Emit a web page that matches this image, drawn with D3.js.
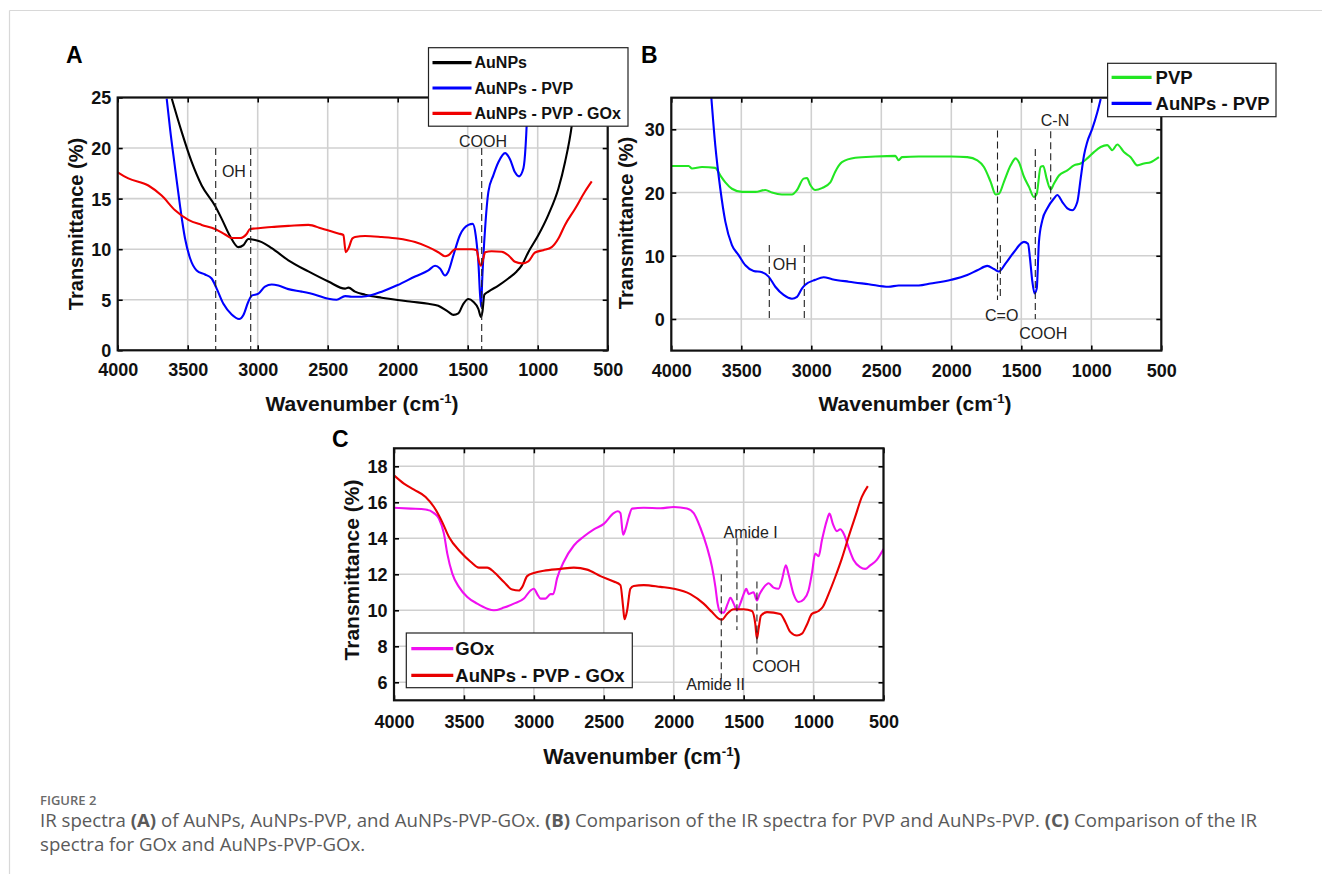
<!DOCTYPE html>
<html><head><meta charset="utf-8">
<script src="https://cdn.jsdelivr.net/npm/d3@7"></script>
<style>
html,body{margin:0;padding:0;background:#fff;}
svg text{font-family:"Liberation Sans",Arial,sans-serif;}
</style></head>
<body>
<svg id="chart" width="1322" height="874"></svg>
<script>
// ---------------- DATA ----------------
const xTickValues = [4000, 3500, 3000, 2500, 2000, 1500, 1000, 500];
const yTicksA = [0, 5, 10, 15, 20, 25];
const yTicksB = [0, 10, 20, 30];
const yTicksC = [6, 8, 10, 12, 14, 16, 18];
const yDomainA = [0, 25];
const yDomainB = [-5, 35];
const yDomainC = [5, 19];

// Panel A: [wavenumber, transmittance %]
const auNPsA = [[3614,24.9],[3543,21.6],[3471,18.6],[3400,16.3],[3305,14.3],[3257,13.0],[3198,11.3],[3138,10.2],[3102,10.4],[3067,11.0],[3019,10.9],[2971,10.7],[2900,10.1],[2781,8.9],[2638,7.8],[2495,6.8],[2376,6.1],[2352,6.2],[2305,5.8],[2233,5.5],[2114,5.2],[2000,4.97],[1900,4.8],[1781,4.6],[1710,4.4],[1638,3.8],[1602,3.5],[1567,3.65],[1531,4.6],[1495,5.07],[1460,4.8],[1424,4.1],[1405,3.3],[1395,3.8],[1381,5.5],[1352,5.8],[1281,6.4],[1210,7.1],[1150,7.8],[1114,8.4],[1067,9.7],[995,11.4],[924,13.4],[852,16.0],[805,18.6],[757,22.2],[733,25]];
const auNPsPvpA = [[3650,24.9],[3626,21.9],[3590,18.0],[3555,14.3],[3519,11.05],[3483,9.1],[3436,7.9],[3376,7.5],[3329,7.1],[3293,6.1],[3245,4.6],[3186,3.55],[3133,3.1],[3102,3.5],[3067,4.8],[3043,5.4],[2995,5.6],[2948,6.3],[2900,6.5],[2852,6.4],[2781,6.05],[2686,5.8],[2590,5.5],[2495,5.1],[2436,5.0],[2376,5.36],[2329,5.3],[2257,5.3],[2186,5.46],[2114,5.8],[2000,6.45],[1876,7.3],[1781,7.9],[1733,8.36],[1698,8.1],[1662,7.4],[1638,7.8],[1602,9.4],[1555,11.4],[1495,12.4],[1464,12.5],[1443,11.4],[1424,8.75],[1405,4.3],[1395,7.4],[1376,12.0],[1352,15.7],[1317,17.3],[1281,18.6],[1233,19.5],[1198,18.9],[1162,17.6],[1133,17.2],[1102,18.0],[1086,20.3],[1079,22.2],[1072,25]];
const auNPsPvpGoxA = [[4000,17.6],[3924,17.0],[3781,16.3],[3686,15.3],[3590,13.85],[3495,12.9],[3400,12.4],[3305,12.0],[3233,11.45],[3186,11.1],[3126,11.1],[3079,11.5],[3055,12.0],[3019,12.04],[2900,12.2],[2781,12.3],[2638,12.4],[2543,12.04],[2424,11.55],[2388,11.4],[2371,9.7],[2352,10.07],[2324,11.05],[2305,11.2],[2233,11.3],[2114,11.2],[2000,11.05],[1876,10.7],[1781,10.2],[1710,9.7],[1662,9.3],[1638,9.4],[1590,10.0],[1543,10.0],[1471,10.0],[1436,9.9],[1419,8.75],[1405,8.36],[1388,9.1],[1376,9.7],[1329,9.8],[1257,9.74],[1210,9.4],[1162,8.75],[1114,8.6],[1067,8.8],[1019,9.67],[960,9.9],[900,10.2],[852,11.05],[805,12.4],[733,14.0],[662,15.7],[614,16.7]];

// Panel B
const pvpB = [[4000,24.2],[3876,24.2],[3852,23.8],[3781,24.05],[3686,23.9],[3650,22.7],[3614,21.6],[3567,20.6],[3495,20.1],[3400,20.1],[3329,20.4],[3281,20.0],[3210,19.7],[3138,19.7],[3102,20.4],[3055,22.2],[3031,22.3],[3007,21.2],[2971,20.4],[2924,20.7],[2864,21.6],[2829,23.3],[2781,24.8],[2686,25.5],[2543,25.7],[2400,25.8],[2376,25.1],[2352,25.6],[2233,25.7],[2148,25.7],[2000,25.7],[1886,25.6],[1814,25.1],[1767,24.05],[1719,21.7],[1683,19.7],[1660,19.8],[1624,21.7],[1576,24.3],[1540,25.4],[1517,24.8],[1481,22.5],[1445,20.9],[1410,19.3],[1390,19.8],[1362,24.05],[1343,24.2],[1319,22.2],[1290,20.5],[1267,21.4],[1231,22.7],[1171,23.5],[1124,24.3],[1076,24.6],[1029,25.4],[981,26.4],[933,27.2],[886,27.5],[850,26.7],[814,27.6],[767,26.4],[719,25.6],[671,24.3],[624,24.6],[576,24.8],[517,25.6]];
const auNPsPvpB = [[3714,35],[3686,27.5],[3650,20.6],[3614,15.4],[3567,11.7],[3519,10.1],[3471,8.5],[3412,7.6],[3352,7.4],[3305,6.7],[3257,5.1],[3198,3.8],[3138,3.2],[3102,3.5],[3067,4.8],[3043,5.4],[2971,6.2],[2912,6.6],[2852,6.3],[2733,5.9],[2590,5.5],[2448,5.1],[2376,5.3],[2233,5.3],[2148,5.6],[2000,6.2],[1886,6.95],[1814,7.7],[1743,8.4],[1695,7.9],[1660,7.5],[1612,8.8],[1552,10.6],[1481,12.2],[1452,11.9],[1438,9.6],[1421,5.9],[1405,4.05],[1390,4.8],[1374,12.2],[1350,15.6],[1314,17.5],[1267,19.05],[1243,19.6],[1207,18.5],[1171,17.5],[1136,17.2],[1100,18.5],[1076,22.2],[1052,25.9],[1029,28.0],[993,30.1],[957,32.7],[933,34.8]];

// Panel C
const goxC = [[4000,15.7],[3881,15.65],[3774,15.6],[3714,15.4],[3679,15.1],[3643,14.26],[3619,13.15],[3583,12.04],[3536,11.3],[3476,10.74],[3405,10.37],[3333,10.09],[3286,10.0],[3214,10.15],[3143,10.37],[3071,10.65],[3024,11.1],[3000,11.2],[2976,10.9],[2952,10.65],[2917,10.65],[2881,10.9],[2862,10.9],[2833,11.8],[2786,12.7],[2714,13.6],[2643,14.1],[2571,14.5],[2500,14.8],[2429,15.4],[2400,15.5],[2381,15.4],[2362,14.2],[2345,14.5],[2321,15.2],[2298,15.65],[2214,15.7],[2095,15.67],[2000,15.74],[1905,15.65],[1857,15.4],[1810,14.6],[1762,13.5],[1726,12.4],[1702,11.3],[1686,10.37],[1667,9.9],[1643,9.87],[1614,10.37],[1595,10.7],[1571,10.37],[1548,10.0],[1524,10.37],[1500,10.9],[1481,11.2],[1464,10.9],[1429,11.0],[1405,10.55],[1386,10.9],[1357,11.26],[1321,11.5],[1286,11.26],[1250,11.2],[1226,11.7],[1198,12.5],[1179,12.0],[1143,10.9],[1107,10.46],[1071,10.6],[1036,11.1],[1012,12.04],[988,13.15],[964,13.0],[940,13.9],[905,15.0],[886,15.37],[862,14.8],[833,14.4],[810,14.5],[781,14.2],[750,13.5],[714,12.8],[667,12.4],[631,12.3],[595,12.5],[548,12.8],[500,13.4]];
const auNPsPvpGoxC = [[4000,17.5],[3929,17.04],[3857,16.7],[3774,16.3],[3714,15.74],[3655,14.9],[3607,14.07],[3524,13.24],[3452,12.7],[3393,12.37],[3333,12.37],[3286,12.13],[3214,11.57],[3155,11.15],[3107,11.1],[3083,11.3],[3048,11.9],[3000,12.07],[2929,12.2],[2810,12.3],[2714,12.37],[2619,12.26],[2524,11.9],[2429,11.6],[2381,11.4],[2362,10.2],[2352,9.5],[2333,10.0],[2310,11.2],[2286,11.35],[2214,11.4],[2095,11.3],[2000,11.2],[1881,10.9],[1786,10.37],[1726,9.9],[1679,9.54],[1655,9.48],[1619,9.8],[1571,10.06],[1500,10.06],[1440,9.96],[1417,9.26],[1405,8.43],[1393,8.98],[1376,9.7],[1333,9.9],[1238,9.8],[1202,9.35],[1167,8.8],[1119,8.6],[1083,8.7],[1048,9.2],[1012,9.8],[964,9.96],[933,10.2],[893,10.9],[845,11.85],[798,12.87],[750,14.07],[702,15.2],[655,16.3],[612,16.9]];

// Annotations: dashed markers [wavenumber, from, to] and labels [text, wavenumber, value]
const markersA = [[3300,20,0],[3050,20,0],[1400,20,0]];
const labelsA = [["OH",3170,17.1],["COOH",1391,20.1]];
const markersB = [[3300,11.7,0],[3050,11.7,0],[1670,29.8,3],[1650,11.7,3],[1400,26.9,0],[1290,29.7,18.9]];
const labelsB = [["OH",3190,7.75],["C=O",1640,-0.3],["COOH",1343,-3.2],["C-N",1259,30.5]];
const markersC = [[1660,12,6.2],[1548,14,8.9],[1405,11.6,7.5]];
const labelsC = [["Amide I",1450,14.02],["Amide II",1700,5.57],["COOH",1266,6.57]];

const legendA = ["AuNPs", "AuNPs - PVP", "AuNPs - PVP - GOx"];
const legendB = ["PVP", "AuNPs - PVP"];
const legendC = ["GOx", "AuNPs - PVP - GOx"];

// ---------------- DRAWING ----------------
const svg = d3.select("#chart");
svg.append("rect").attr("width",1322).attr("height",874).attr("fill","#fff");
// page frame
svg.append("line").attr("x1",9.5).attr("x2",1322).attr("y1",10.5).attr("y2",10.5).attr("stroke","#d8d8d8").attr("stroke-width",1.2);
svg.append("line").attr("x1",9.5).attr("x2",9.5).attr("y1",10.5).attr("y2",874).attr("stroke","#d8d8d8").attr("stroke-width",1.2);

const COLORS = {black:"#000000", blue:"#0000ff", red:"#f00000", green:"#22e622", magenta:"#f010f0", redC:"#e80000"};

function panel(cfg){
  const g = svg.append("g");
  const x = d3.scaleLinear().domain([4000,500]).range([cfg.x0,cfg.x1]);
  const y = d3.scaleLinear().domain(cfg.yDomain).range([cfg.y1,cfg.y0]);
  const clipId = "clip"+cfg.name;
  svg.append("clipPath").attr("id",clipId).append("rect")
    .attr("x",cfg.x0).attr("y",cfg.y0).attr("width",cfg.x1-cfg.x0).attr("height",cfg.y1-cfg.y0);
  // grid
  g.selectAll(".gx").data(xTickValues).join("line")
    .attr("x1",d=>x(d)).attr("x2",d=>x(d)).attr("y1",cfg.y0).attr("y2",cfg.y1)
    .attr("stroke","#d0d0d0").attr("stroke-width",1.6);
  g.selectAll(".gy").data(cfg.yTicks).join("line")
    .attr("x1",cfg.x0).attr("x2",cfg.x1).attr("y1",d=>y(d)).attr("y2",d=>y(d))
    .attr("stroke","#d0d0d0").attr("stroke-width",1.6);
  // axes (ticks inward on all sides)
  const tl = 5;
  const axB = d3.axisBottom(x).tickValues(xTickValues).tickSize(-tl).tickFormat(d3.format("d"));
  const axT = d3.axisTop(x).tickValues(xTickValues).tickSize(-tl).tickFormat("");
  const axL = d3.axisLeft(y).tickValues(cfg.yTicks).tickSize(-tl).tickFormat(d3.format("d"));
  const axR = d3.axisRight(y).tickValues(cfg.yTicks).tickSize(-tl).tickFormat("");
  function styleAx(sel){
    sel.select(".domain").remove();
    sel.selectAll(".tick line").attr("stroke","#000").attr("stroke-width",1.6);
    sel.selectAll(".tick text").attr("fill","#111").style("font-size",cfg.tickFont+"px").style("font-weight","bold");
  }
  g.append("g").attr("transform",`translate(0,${cfg.y1})`).call(axB).call(styleAx)
    .selectAll(".tick text").attr("y",cfg.xLabOff).attr("dy","0");
  g.append("g").attr("transform",`translate(0,${cfg.y0})`).call(axT).call(styleAx);
  g.append("g").attr("transform",`translate(${cfg.x0},0)`).call(axL).call(styleAx)
    .selectAll(".tick text").attr("x",-6.5).attr("dy","0.36em");
  g.append("g").attr("transform",`translate(${cfg.x1},0)`).call(axR).call(styleAx);
  // series
  const line = d3.line().x(d=>x(d[0])).y(d=>y(d[1])).curve(d3.curveMonotoneX);
  const sg = g.append("g").attr("clip-path",`url(#${clipId})`);
  cfg.series.forEach(s=>{
    sg.append("path").datum(s.data).attr("d",line).attr("fill","none")
      .attr("stroke",s.color).attr("stroke-width",2.1).attr("stroke-linejoin","round");
  });
  // dashed markers
  g.selectAll(".mk").data(cfg.markers).join("line")
    .attr("x1",d=>x(d[0])).attr("x2",d=>x(d[0])).attr("y1",d=>y(d[1])).attr("y2",d=>y(d[2]))
    .attr("stroke","#222").attr("stroke-width",1.1).attr("stroke-dasharray","7,4");
  g.selectAll(".lb").data(cfg.labels).join("text")
    .attr("x",d=>x(d[1])).attr("y",d=>y(d[2])).attr("text-anchor","middle")
    .attr("fill","#222").style("font-size","16px").text(d=>d[0]);
  // frame box
  g.append("rect").attr("x",cfg.x0).attr("y",cfg.y0).attr("width",cfg.x1-cfg.x0).attr("height",cfg.y1-cfg.y0)
    .attr("fill","none").attr("stroke","#111").attr("stroke-width",2.2);
  // axis titles
  const xt = g.append("text").attr("x",cfg.xTitle[0]).attr("y",cfg.xTitle[1]).attr("text-anchor","middle")
    .style("font-size",cfg.xTitleFont+"px").style("font-weight","bold").attr("fill","#111");
  xt.append("tspan").text("Wavenumber (cm");
  xt.append("tspan").text("-1").attr("dy",-8).style("font-size",(cfg.xTitleFont*0.62)+"px");
  xt.append("tspan").text(")").attr("dy",8);
  g.append("text").attr("transform",`translate(${cfg.yTitle[0]},${cfg.yTitle[1]}) rotate(-90)`)
    .attr("text-anchor","middle").style("font-size",cfg.titleFont+"px").style("font-weight","bold")
    .attr("fill","#111").text("Transmittance (%)");
  // panel letter
  g.append("text").attr("x",cfg.letter[0]).attr("y",cfg.letter[1]).style("font-size","23px")
    .style("font-weight","bold").attr("fill","#000").text(cfg.name);
  // legend
  const L = cfg.legend;
  const lg = g.append("g");
  lg.append("rect").attr("x",L.x).attr("y",L.y).attr("width",L.w).attr("height",L.h)
    .attr("fill","#fff").attr("stroke","#222").attr("stroke-width",1.2);
  L.items.forEach((it,i)=>{
    const yy = L.y + L.first + i*L.step;
    lg.append("line").attr("x1",L.x+L.lx0).attr("x2",L.x+L.lx1).attr("y1",yy).attr("y2",yy)
      .attr("stroke",it.color).attr("stroke-width",3.2);
    lg.append("text").attr("x",L.x+L.tx).attr("y",yy).attr("dy","0.36em")
      .style("font-size",L.font+"px").style("font-weight","bold").attr("fill","#111").text(it.label);
  });
}

panel({name:"A", x0:117.7, x1:607.7, y0:97.5, y1:350.3, yDomain:yDomainA, yTicks:yTicksA,
  tickFont:18, titleFont:20, xTitleFont:21, xLabOff:26, xTitle:[362,411], yTitle:[83,224], letter:[66,62.5],
  series:[{data:auNPsA,color:COLORS.black},{data:auNPsPvpA,color:COLORS.blue},{data:auNPsPvpGoxA,color:COLORS.red}],
  markers:markersA, labels:labelsA,
  legend:{x:428.5,y:47.7,w:199.5,h:78.5,first:15,step:25.3,lx0:4,lx1:43,tx:46,font:16,
    items:[{label:legendA[0],color:COLORS.black},{label:legendA[1],color:COLORS.blue},{label:legendA[2],color:COLORS.red}]}});

panel({name:"B", x0:671.3, x1:1161.3, y0:97.7, y1:350.6, yDomain:yDomainB, yTicks:yTicksB,
  tickFont:18, titleFont:20, xTitleFont:21, xLabOff:26, xTitle:[915,411], yTitle:[633,223], letter:[641,62.5],
  series:[{data:pvpB,color:COLORS.green},{data:auNPsPvpB,color:COLORS.blue}],
  markers:markersB, labels:labelsB,
  legend:{x:1107.6,y:63.3,w:168.4,h:53.4,first:14,step:26,lx0:4,lx1:44,tx:48,font:18.5,
    items:[{label:legendB[0],color:COLORS.green},{label:legendB[1],color:COLORS.blue}]}});

panel({name:"C", x0:394, x1:883.5, y0:448.3, y1:700.3, yDomain:yDomainC, yTicks:yTicksC,
  tickFont:18, titleFont:21, xTitleFont:21.5, xLabOff:28, xTitle:[642,764], yTitle:[359,570], letter:[332,447],
  series:[{data:goxC,color:COLORS.magenta},{data:auNPsPvpGoxC,color:COLORS.redC}],
  markers:markersC, labels:labelsC,
  legend:{x:406.3,y:633,w:226,h:54.7,first:15.7,step:26.6,lx0:5,lx1:47,tx:49,font:18.5,
    items:[{label:legendC[0],color:COLORS.magenta},{label:legendC[1],color:COLORS.redC}]}});

// ---------------- CAPTION ----------------
const cap = svg.append("g").style("font-family",'"Open Sans","Noto Sans",sans-serif');
cap.append("text").attr("x",40).attr("y",805).style("font-size","13px").style("font-weight","600")
  .attr("fill","#6a6a6a").style("font-family",'"Open Sans","Noto Sans",sans-serif').text("FIGURE 2");
function capLine(y, parts, targetW){
  const t = cap.append("text").attr("x",40).attr("y",y).attr("fill","#5a5a5a").style("font-size","16px")
    .style("font-family",'"Open Sans","Noto Sans",sans-serif');
  parts.forEach(p=>{ t.append("tspan").text(p[0]).style("font-weight",p[1]?"bold":"normal"); });
  if(targetW){
    const w = t.node().getComputedTextLength();
    t.style("font-size",(16*targetW/w)+"px");
  }
  return t;
}
const l1 = capLine(827,[["IR spectra ",0],["(A)",1],[" of AuNPs, AuNPs-PVP, and AuNPs-PVP-GOx. ",0],["(B)",1],[" Comparison of the IR spectra for PVP and AuNPs-PVP. ",0],["(C)",1],[" Comparison of the IR",0]],1218);
const fs = parseFloat(l1.style("font-size"));
capLine(851,[["spectra for GOx and AuNPs-PVP-GOx.",0]]).style("font-size",fs+"px");
</script>
</body></html>
